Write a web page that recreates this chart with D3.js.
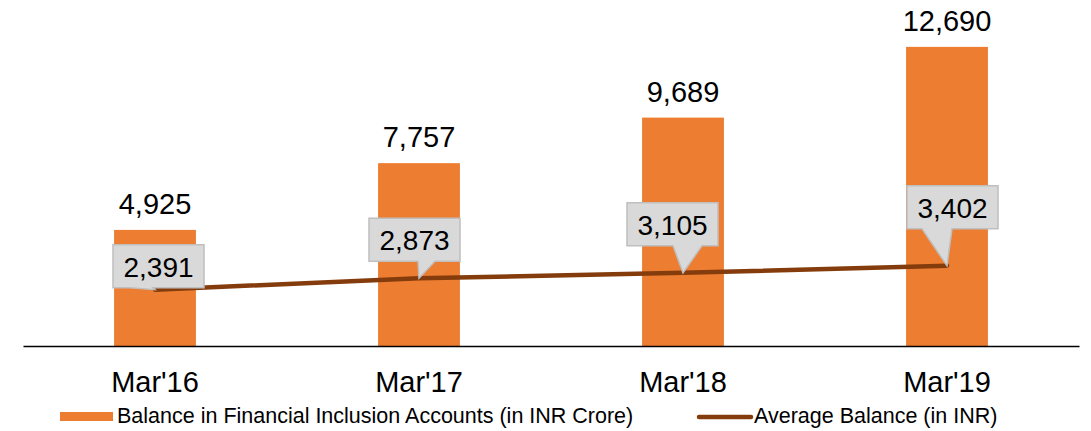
<!DOCTYPE html>
<html>
<head>
<meta charset="utf-8">
<script src="https://cdn.jsdelivr.net/npm/d3@7"></script>
<style>
  body { margin: 0; background: #fff; }
  svg { display: block; font-family: "Liberation Sans", Arial, sans-serif; }
</style>
</head>
<body>
<svg></svg>
<script>
var w = 1091,
    h = 431;

// data
var categories = ["Mar'16", "Mar'17", "Mar'18", "Mar'19"];
var balanceCrore = [4925, 7757, 9689, 12690];
var avgBalance = [2391, 2873, 3105, 3402];
var legendLabels = ["Balance in Financial Inclusion Accounts (in INR Crore)", "Average Balance (in INR)"];

// where each callout box sits relative to its point (dx to box left, dy to box bottom)
var calloutPos = [[-42, -2], [-50, -17], [-56, -27], [-40, -37]];
var pointerBase = [[-25, -2], [-1, 16], [-10, 19], [-25, 5]];

var barColor = "#ED7D31",
    lineColor = "#843C0C";

var svg = d3.select("svg")
  .attr("width", w)
  .attr("height", h);

var x = d3.scaleBand()
  .domain(categories)
  .range([23, 1079])
  .paddingInner(0.69)
  .paddingOuter(0.345);

var y = d3.scaleLinear()
  .domain([0, 14000])
  .range([346, 16]);

// secondary axis for the average balance (same scale in the source)
var y2 = y.copy();

// bars
svg.selectAll("rect.bar")
  .data(balanceCrore)
  .enter()
  .append("rect")
  .attr("class", "bar")
  .attr("x", function(d, i) { return x(categories[i]); })
  .attr("y", function(d) { return y(d); })
  .attr("width", x.bandwidth())
  .attr("height", function(d) { return y(0) - y(d); })
  .attr("fill", barColor);

// bar value labels
svg.selectAll("text.val")
  .data(balanceCrore)
  .enter()
  .append("text")
  .attr("class", "val")
  .attr("x", function(d, i) { return x(categories[i]) + x.bandwidth() / 2; })
  .attr("y", function(d) { return y(d) - 16; })
  .attr("text-anchor", "middle")
  .attr("font-size", 29)
  .attr("fill", "#000")
  .text(function(d) { return d3.format(",")(d); });

// x axis
var xAxis = svg.append("g")
  .attr("transform", "translate(0," + y(0) + ")")
  .call(d3.axisBottom(x).tickSize(0).tickPadding(25));
xAxis.select(".domain").attr("stroke", "#000").attr("stroke-width", 1.3);
xAxis.selectAll("text")
  .attr("font-size", 29)
  .attr("font-family", "Liberation Sans, Arial, sans-serif")
  .attr("fill", "#000");

// average balance line
var pts = avgBalance.map(function(d, i) {
  return [x(categories[i]) + x.bandwidth() / 2, y2(d)];
});

svg.append("path")
  .datum(pts)
  .attr("fill", "none")
  .attr("stroke", lineColor)
  .attr("stroke-width", 4.5)
  .attr("stroke-linecap", "round")
  .attr("d", d3.line());

// callouts
var bw = 91, bh = 43;
var callouts = svg.selectAll("g.callout")
  .data(avgBalance)
  .enter()
  .append("g")
  .attr("class", "callout");

callouts.append("path")
  .attr("fill", "#D9D9D9")
  .attr("stroke", "#BFBFBF")
  .attr("stroke-width", 1.5)
  .attr("d", function(d, i) {
    var px = pts[i][0], py = pts[i][1];
    var left = px + calloutPos[i][0],
        bottom = py + calloutPos[i][1],
        top = bottom - bh,
        right = left + bw;
    var b1 = px + pointerBase[i][0],
        b2 = px + pointerBase[i][1];
    return "M" + left + "," + top + "H" + right + "V" + bottom +
      "H" + b2 + "L" + px + "," + py + "L" + b1 + "," + bottom +
      "H" + left + "Z";
  });

callouts.append("text")
  .attr("x", function(d, i) { return pts[i][0] + calloutPos[i][0] + bw / 2; })
  .attr("y", function(d, i) { return pts[i][1] + calloutPos[i][1] - bh + 32; })
  .attr("text-anchor", "middle")
  .attr("font-size", 28)
  .attr("fill", "#000")
  .text(function(d) { return d3.format(",")(d); });

// legend
var legend = svg.append("g");
legend.append("rect")
  .attr("x", 60).attr("y", 412)
  .attr("width", 53).attr("height", 9)
  .attr("fill", barColor);
legend.append("text")
  .attr("x", 117).attr("y", 423)
  .attr("font-size", 21.5)
  .text(legendLabels[0]);
legend.append("line")
  .attr("x1", 699).attr("x2", 751)
  .attr("y1", 417).attr("y2", 417)
  .attr("stroke", lineColor)
  .attr("stroke-width", 4.5)
  .attr("stroke-linecap", "round");
legend.append("text")
  .attr("x", 754).attr("y", 423)
  .attr("font-size", 21.5)
  .text(legendLabels[1]);
</script>
</body>
</html>
